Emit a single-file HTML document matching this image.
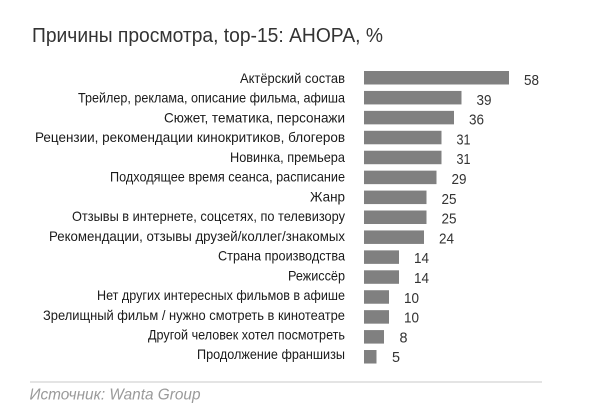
<!DOCTYPE html>
<html><head><meta charset="utf-8">
<style>
html,body{margin:0;padding:0;background:#fff;}
svg{display:block;}
text{font-family:"Liberation Sans","DejaVu Sans",sans-serif;}
</style></head>
<body>
<svg width="608" height="416" viewBox="0 0 608 416" xmlns="http://www.w3.org/2000/svg">
<rect width="608" height="416" fill="#fff"/>
<text x="32" y="42" font-size="20" fill="#333" textLength="351" lengthAdjust="spacingAndGlyphs">Причины просмотра, top-15: АНОРА, %</text>

<g fill="#808080">
<rect x="364" y="71" width="145" height="13.5"/>
<rect x="364" y="90.93" width="97.5" height="13.5"/>
<rect x="364" y="110.86" width="90" height="13.5"/>
<rect x="364" y="130.79" width="77.5" height="13.5"/>
<rect x="364" y="150.72" width="77.5" height="13.5"/>
<rect x="364" y="170.65" width="72.5" height="13.5"/>
<rect x="364" y="190.58" width="62.5" height="13.5"/>
<rect x="364" y="210.51" width="62.5" height="13.5"/>
<rect x="364" y="230.44" width="60" height="13.5"/>
<rect x="364" y="250.37" width="35" height="13.5"/>
<rect x="364" y="270.3" width="35" height="13.5"/>
<rect x="364" y="290.23" width="25" height="13.5"/>
<rect x="364" y="310.16" width="25" height="13.5"/>
<rect x="364" y="330.09" width="20" height="13.5"/>
<rect x="364" y="350.02" width="12.5" height="13.5"/>
</g>

<g font-size="14" fill="#1a1a1a" text-anchor="end">
<text x="345" y="83" textLength="105" lengthAdjust="spacingAndGlyphs">Актёрский состав</text>
<text x="345" y="102.73" textLength="267" lengthAdjust="spacingAndGlyphs">Трейлер, реклама, описание фильма, афиша</text>
<text x="345" y="122.46" textLength="181" lengthAdjust="spacingAndGlyphs">Сюжет, тематика, персонажи</text>
<text x="345" y="142.19" textLength="310" lengthAdjust="spacingAndGlyphs">Рецензии, рекомендации кинокритиков, блогеров</text>
<text x="345" y="161.92" textLength="115" lengthAdjust="spacingAndGlyphs">Новинка, премьера</text>
<text x="345" y="181.65" textLength="235" lengthAdjust="spacingAndGlyphs">Подходящее время сеанса, расписание</text>
<text x="345" y="201.38" textLength="35" lengthAdjust="spacingAndGlyphs">Жанр</text>
<text x="345" y="221.11" textLength="273" lengthAdjust="spacingAndGlyphs">Отзывы в интернете, соцсетях, по телевизору</text>
<text x="345" y="240.84" textLength="296" lengthAdjust="spacingAndGlyphs">Рекомендации, отзывы друзей/коллег/знакомых</text>
<text x="345" y="260.57" textLength="127" lengthAdjust="spacingAndGlyphs">Страна производства</text>
<text x="345" y="280.3" textLength="57" lengthAdjust="spacingAndGlyphs">Режиссёр</text>
<text x="345" y="300.03" textLength="248" lengthAdjust="spacingAndGlyphs">Нет других интересных фильмов в афише</text>
<text x="345" y="319.76" textLength="302" lengthAdjust="spacingAndGlyphs">Зрелищный фильм / нужно смотреть в кинотеатре</text>
<text x="345" y="339.49" textLength="197" lengthAdjust="spacingAndGlyphs">Другой человек хотел посмотреть</text>
<text x="345" y="359.22" textLength="148" lengthAdjust="spacingAndGlyphs">Продолжение франшизы</text>
</g>

<g font-size="15" fill="#333">
<text x="524" y="85" textLength="15" lengthAdjust="spacingAndGlyphs">58</text>
<text x="476.5" y="104.8" textLength="15" lengthAdjust="spacingAndGlyphs">39</text>
<text x="469" y="124.6" textLength="15" lengthAdjust="spacingAndGlyphs">36</text>
<text x="456.5" y="144.4" textLength="14" lengthAdjust="spacingAndGlyphs">31</text>
<text x="456.5" y="164.2" textLength="14" lengthAdjust="spacingAndGlyphs">31</text>
<text x="451.5" y="184" textLength="15" lengthAdjust="spacingAndGlyphs">29</text>
<text x="441.5" y="203.8" textLength="15" lengthAdjust="spacingAndGlyphs">25</text>
<text x="441.5" y="223.6" textLength="15" lengthAdjust="spacingAndGlyphs">25</text>
<text x="439" y="243.4" textLength="15" lengthAdjust="spacingAndGlyphs">24</text>
<text x="414" y="263.2" textLength="15" lengthAdjust="spacingAndGlyphs">14</text>
<text x="414" y="283" textLength="15" lengthAdjust="spacingAndGlyphs">14</text>
<text x="404" y="302.8" textLength="15" lengthAdjust="spacingAndGlyphs">10</text>
<text x="404" y="322.6" textLength="15" lengthAdjust="spacingAndGlyphs">10</text>
<text x="399.5" y="342.4" textLength="8" lengthAdjust="spacingAndGlyphs">8</text>
<text x="392" y="362.2" textLength="8" lengthAdjust="spacingAndGlyphs">5</text>
</g>

<line x1="30" y1="382" x2="542" y2="382" stroke="#c8c8c8" stroke-width="1"/>
<text x="29.5" y="399.7" font-size="16" font-style="italic" fill="#9a9a9a" textLength="171" lengthAdjust="spacingAndGlyphs">Источник: Wanta Group</text>
</svg>
</body></html>
